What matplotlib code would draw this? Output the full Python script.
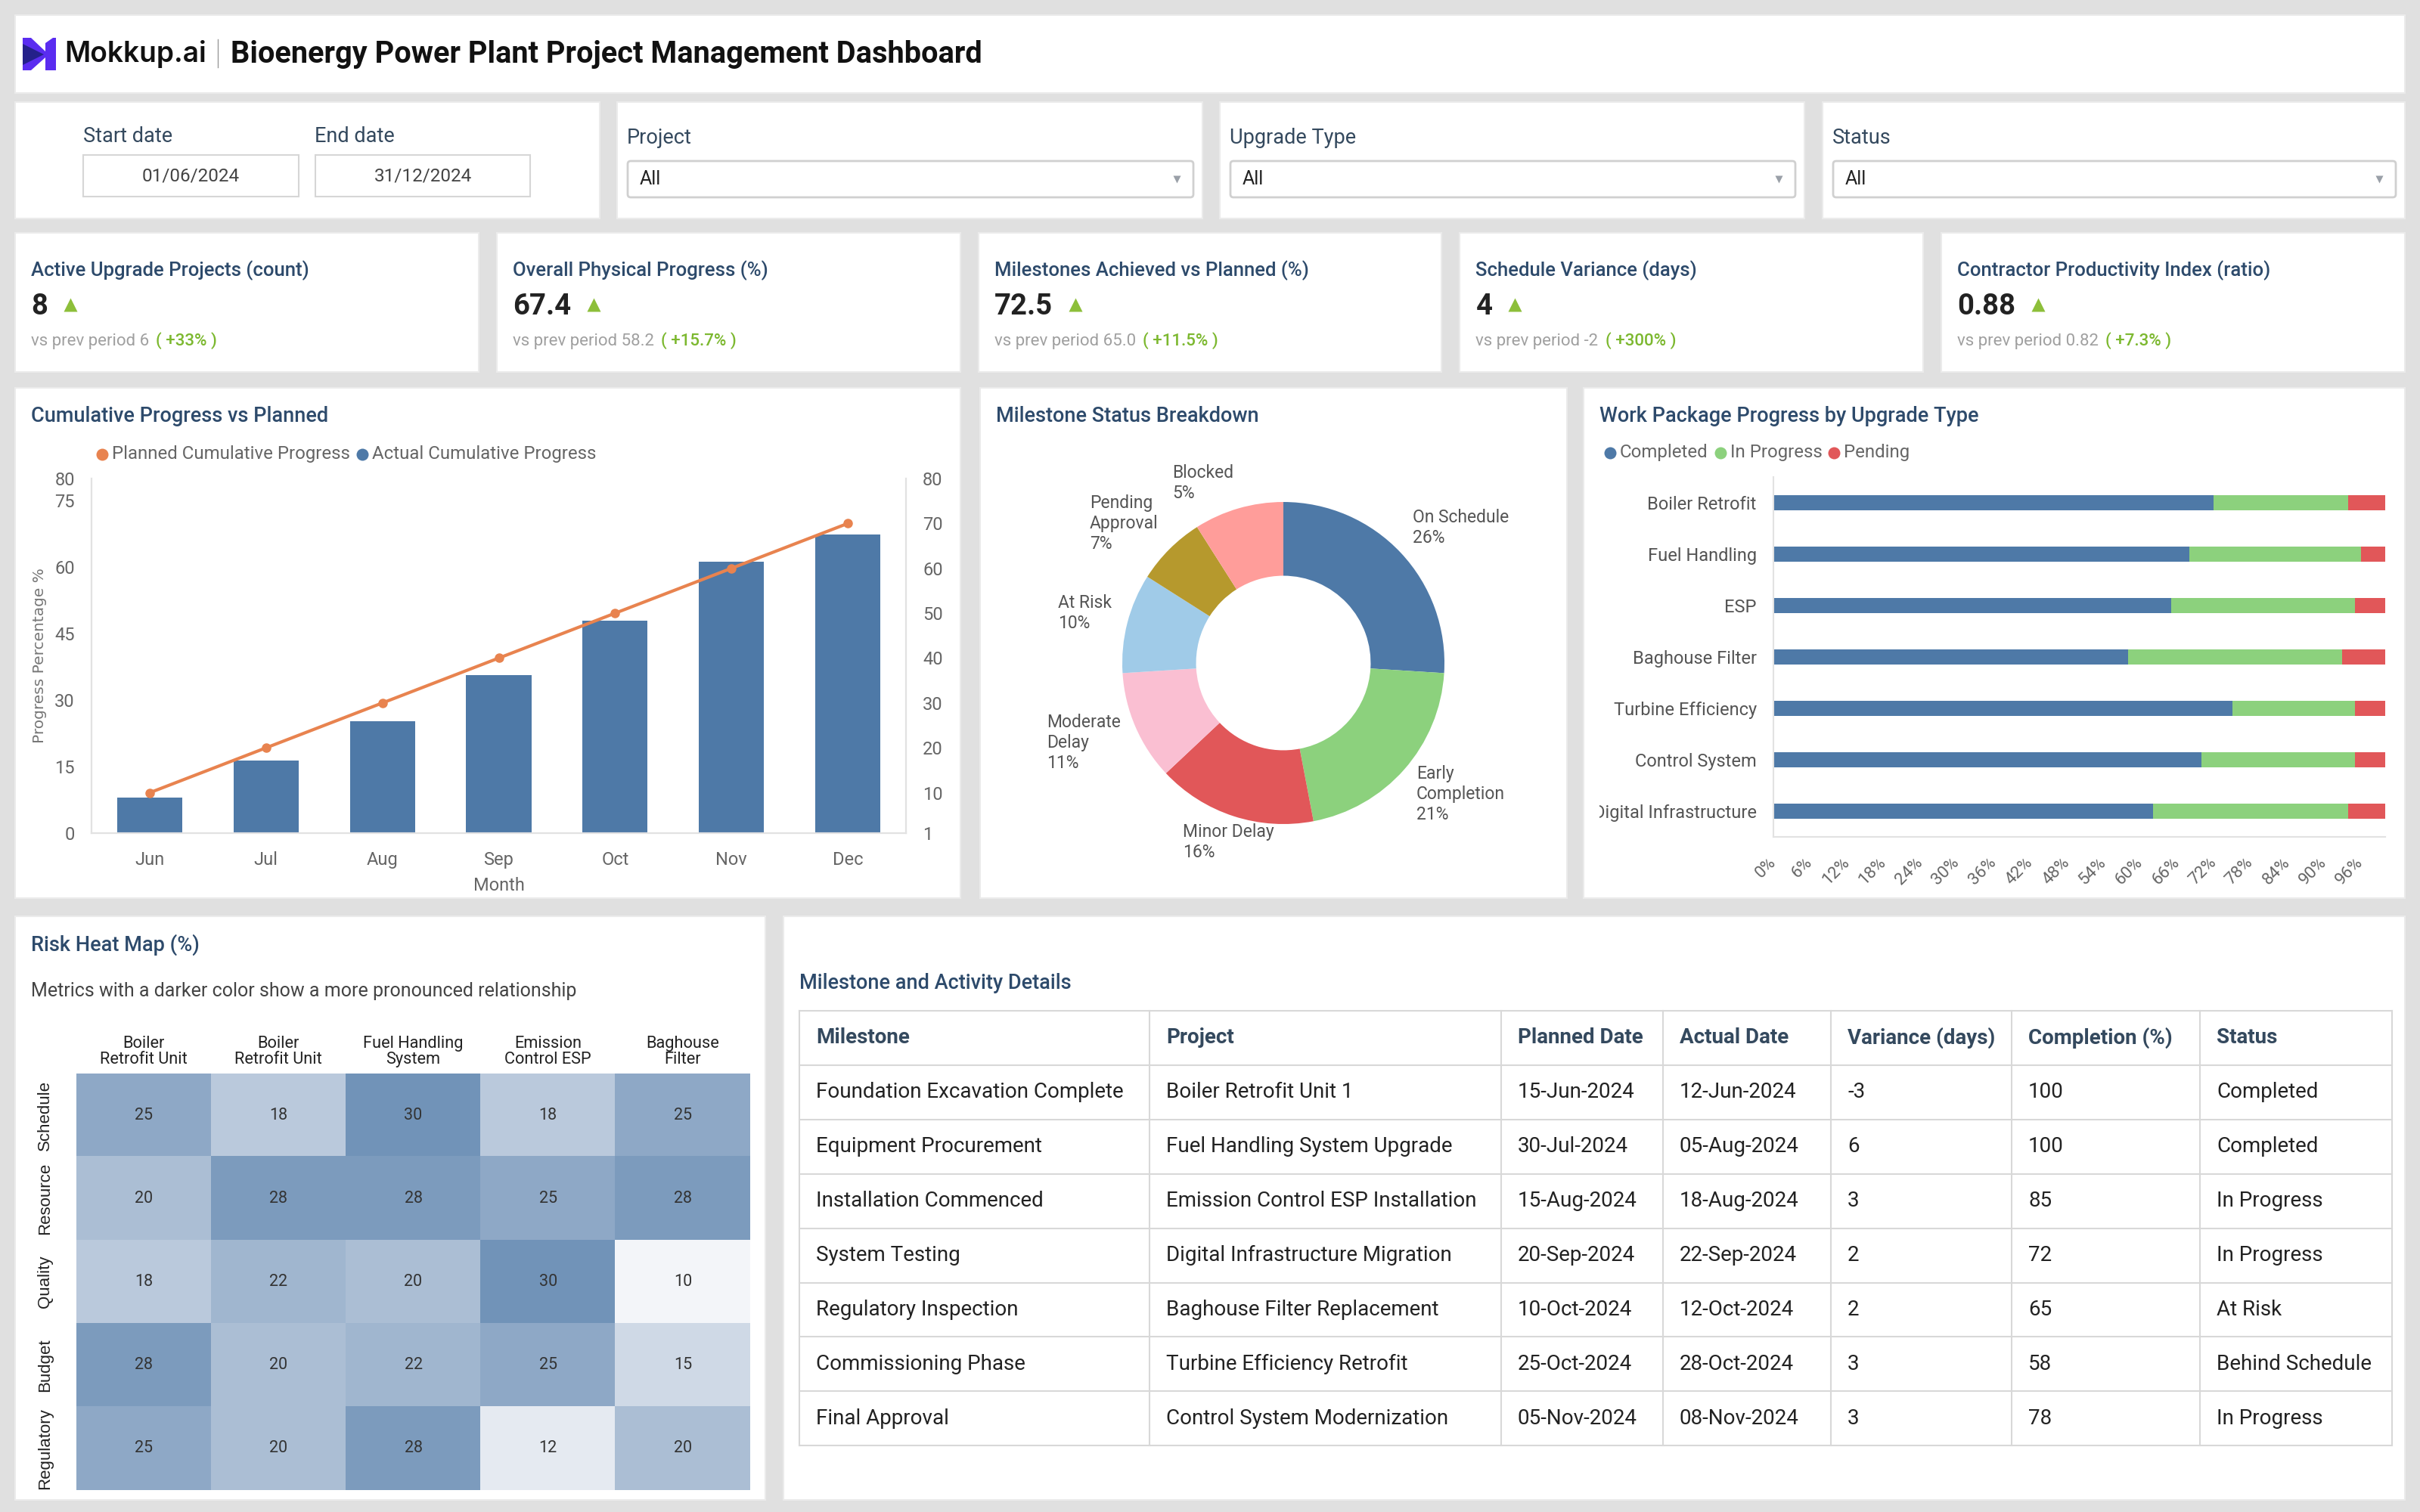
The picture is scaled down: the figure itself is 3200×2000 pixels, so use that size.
import matplotlib
matplotlib.use("Agg")
import matplotlib.pyplot as plt
import numpy as np
from matplotlib.patches import Rectangle, FancyBboxPatch, Polygon
from matplotlib.colors import LinearSegmentedColormap, Normalize
from matplotlib.transforms import Bbox, TransformedBbox

plt.rcParams["font.family"] = ["Roboto", "DejaVu Sans"]

# ---------------- data ----------------
brand = "Mokkup.ai"
dashboard_title = "Bioenergy Power Plant Project Management Dashboard"
start_date = "01/06/2024"
end_date = "31/12/2024"
filter_labels = ["Project", "Upgrade Type", "Status"]
filter_values = ["All", "All", "All"]

kpi_titles = ["Active Upgrade Projects (count)", "Overall Physical Progress (%)",
              "Milestones Achieved vs Planned (%)", "Schedule Variance (days)",
              "Contractor Productivity Index (ratio)"]
kpi_values = ["8", "67.4", "72.5", "4", "0.88"]
kpi_prev = ["6", "58.2", "65.0", "-2", "0.82"]
kpi_change = ["+33%", "+15.7%", "+11.5%", "+300%", "+7.3%"]

months = ["Jun", "Jul", "Aug", "Sep", "Oct", "Nov", "Dec"]
actual_cum = [8, 16.4, 25.2, 35.6, 48, 61.2, 67.4]
planned_cum = [10, 20, 30, 40, 50, 60, 70]
left_ticks = [0, 15, 30, 45, 60, 75, 80]
right_ticks = [1, 10, 20, 30, 40, 50, 60, 70, 80]

status_labels = ["On Schedule", "Early Completion", "Minor Delay", "Moderate Delay",
                 "At Risk", "Pending Approval", "Blocked"]
status_values = [26, 21, 16, 11, 10, 7, 9]
status_label_pct = [26, 21, 16, 11, 10, 7, 5]

upgrade_types = ["Boiler Retrofit", "Fuel Handling", "ESP", "Baghouse Filter",
                 "Turbine Efficiency", "Control System", "Digital Infrastructure"]
completed = [72, 68, 65, 58, 75, 70, 62]
in_progress = [22, 28, 30, 35, 20, 25, 32]
pending = [6, 4, 5, 7, 5, 5, 6]

risk_rows = ["Schedule", "Resource", "Quality", "Budget", "Regulatory"]
risk_cols = ["Boiler\nRetrofit Unit", "Boiler\nRetrofit Unit", "Fuel Handling\nSystem",
             "Emission\nControl ESP", "Baghouse\nFilter"]
risk_schedule = [25, 18, 30, 18, 25]
risk_resource = [20, 28, 28, 25, 28]
risk_quality = [18, 22, 20, 30, 10]
risk_budget = [28, 20, 22, 25, 15]
risk_regulatory = [25, 20, 28, 12, 20]

table_headers = ["Milestone", "Project", "Planned Date", "Actual Date",
                 "Variance (days)", "Completion (%)", "Status"]
milestones = ["Foundation Excavation Complete", "Equipment Procurement", "Installation Commenced",
              "System Testing", "Regulatory Inspection", "Commissioning Phase", "Final Approval"]
projects = ["Boiler Retrofit Unit 1", "Fuel Handling System Upgrade",
            "Emission Control ESP Installation", "Digital Infrastructure Migration",
            "Baghouse Filter Replacement", "Turbine Efficiency Retrofit",
            "Control System Modernization"]
planned_dates = ["15-Jun-2024", "30-Jul-2024", "15-Aug-2024", "20-Sep-2024",
                 "10-Oct-2024", "25-Oct-2024", "05-Nov-2024"]
actual_dates = ["12-Jun-2024", "05-Aug-2024", "18-Aug-2024", "22-Sep-2024",
                "12-Oct-2024", "28-Oct-2024", "08-Nov-2024"]
variance_days = [-3, 6, 3, 2, 2, 3, 3]
completion_pct = [100, 100, 85, 72, 65, 58, 78]
statuses = ["Completed", "Completed", "In Progress", "In Progress", "At Risk",
            "Behind Schedule", "In Progress"]

# ---------------- styling ----------------
BLUE = "#4e79a7"
GREEN = "#8cd17d"
RED = "#e15759"
ORANGE = "#e8834f"
TITLE_C = "#2d4a6b"
PIE_COLORS = ["#4e79a7", "#8cd17d", "#e15759", "#fabfd2", "#a0cbe8", "#b6992d", "#ff9d9a"]

W, H = 3200, 2000
fig = plt.figure(figsize=(W / 100, H / 100), dpi=100, facecolor="#e0e0e0")
bg = fig.add_axes([0, 0, 1, 1], zorder=-5)
bg.set_xlim(0, W)
bg.set_ylim(H, 0)
bg.axis("off")
R = fig.canvas.get_renderer()


def ax_px(x0, y0, x1, y1):
    a = fig.add_axes([x0 / W, 1 - y1 / H, (x1 - x0) / W, (y1 - y0) / H])
    a.set_facecolor("none")
    return a


def card(x0, y0, x1, y1):
    bg.add_patch(Rectangle((x0, y0), x1 - x0, y1 - y0, facecolor="white",
                           edgecolor="#ebebeb", lw=1.5))


def T(x, y, s, size=16, color="#333", weight="normal", ha="left", va="center", **kw):
    return bg.text(x, y, s, fontsize=size, color=color, fontweight=weight, ha=ha, va=va, **kw)


def right_edge(t):
    return t.get_window_extent(renderer=R).x1


def legend_row(x, y, items, size=17.3):
    for label, color in items:
        bg.plot([x + 8], [y], marker="o", ms=11.5, color=color, mec="none")
        t = T(x + 21, y, label, size, color="#666")
        x = right_edge(t) + 8


# ---------------- header ----------------
card(20, 20, 3180, 123)
bg.add_patch(Polygon([(30, 50), (41, 50), (60, 68), (60, 76), (41, 93), (30, 93)],
                     closed=True, facecolor="#5a2cf0", edgecolor="none"))
bg.add_patch(Polygon([(30, 58), (58, 72), (30, 86)], closed=True,
                     facecolor="#24208a", edgecolor="none"))
bg.add_patch(Polygon([(60, 57), (70, 50), (74, 50), (74, 93), (60, 93)], closed=True,
                     facecolor="#5a2cf0", edgecolor="none"))
T(85, 72, brand, 26.7, "#111", "semibold", family=["Inter", "DejaVu Sans"])
bg.plot([288, 288], [52, 89], color="#9a9a9a", lw=1)
T(305, 72, dashboard_title, 28.6, "#111", "bold")

# ---------------- filters ----------------
filter_cards = [(20, 135, 793, 289), (816, 135, 1590, 289), (1613, 135, 2386, 289), (2410, 135, 3180, 289)]
for c in filter_cards:
    card(*c)
T(110, 180, "Start date", 19.5, "#34495e")
T(416, 180, "End date", 19.5, "#34495e")
for (x0, x1), s in zip([(110, 395), (417, 701)], [start_date, end_date]):
    bg.add_patch(Rectangle((x0, 205), x1 - x0, 55, facecolor="white", edgecolor="#d6d6d6", lw=1.5))
    T((x0 + x1) / 2, 233, s, 17.5, "#444", ha="center")
for (x0, y0, x1, y1), lab, val in zip(filter_cards[1:], filter_labels, filter_values):
    T(x0 + 13, 183, lab, 19.5, "#34495e")
    bg.add_patch(FancyBboxPatch((x0 + 14, 213), (x1 - 12) - (x0 + 14), 48,
                                boxstyle="round,pad=0,rounding_size=4",
                                facecolor="white", edgecolor="#d0d0d0", lw=2))
    T(x0 + 30, 237, val, 18, "#222")
    bg.plot([x1 - 34], [237], marker="v", ms=7, color="#9aa0a8", mec="none")

# ---------------- KPI cards ----------------
kw_ = (3160 - 4 * 24) / 5
for i in range(5):
    cx = 20 + i * (kw_ + 24)
    card(cx, 308, cx + kw_, 492)
    T(cx + 21, 358, kpi_titles[i], 18.5, TITLE_C, "medium")
    tv = T(cx + 21, 406, kpi_values[i], 27.5, "#222", "bold")
    bg.plot([right_edge(tv) + 30], [403], marker="^", ms=12.5, color="#8dbf3a", mec="none")
    ts = T(cx + 21, 451, f"vs prev period {kpi_prev[i]}", 16, "#a0a0a0")
    T(right_edge(ts) + 9, 451, f"( {kpi_change[i]} )", 16, "#7cb82f", "medium")

# ---------------- cumulative progress ----------------
card(20, 513, 1270, 1188)
T(41, 551, "Cumulative Progress vs Planned", 19.5, TITLE_C, "medium")
legend_row(127, 601, [("Planned Cumulative Progress", ORANGE), ("Actual Cumulative Progress", BLUE)])
ax1 = ax_px(121, 633, 1198, 1102)
x = np.arange(len(months))
ax1.bar(x, actual_cum, width=0.56, color=BLUE, zorder=2)
ax1.set_xlim(-0.5, len(months) - 0.5)
ax1.set_ylim(0, 80)
ax1.set_yticks(left_ticks)
ax1.set_xticks(x)
ax1.set_xticklabels(months)
ax2 = ax1.twinx()
ax2.set_facecolor("none")
ax2.plot(x, planned_cum, color=ORANGE, lw=3, marker="o", ms=8, zorder=3)
ax2.set_ylim(1, 80)
ax2.set_yticks(right_ticks)
for a in (ax1, ax2):
    for sp in a.spines.values():
        sp.set_color("#e2e2e2")
        sp.set_linewidth(1.5)
    a.spines["top"].set_visible(False)
    a.tick_params(length=0, labelsize=17, labelcolor="#666")
ax1.tick_params(axis="y", pad=16)
ax1.tick_params(axis="x", pad=17)
ax2.tick_params(axis="y", pad=16)
T(659.5, 1171, "Month", 17, "#666", ha="center")
T(53, 867, "Progress Percentage %", 14.5, "#777", ha="center", rotation=90,
  family=["DejaVu Sans"])

# ---------------- milestone donut ----------------
card(1296, 513, 2072, 1188)
T(1317, 551, "Milestone Status Breakdown", 19.5, TITLE_C, "medium")
cxp, cyp, rad = 1697, 877, 213
dx = ax_px(cxp - 350, cyp - 350, cxp + 350, cyp + 350)
wedges, _ = dx.pie(status_values, colors=PIE_COLORS, startangle=90, counterclock=False,
                   radius=1, wedgeprops=dict(width=0.458, edgecolor="none"))
lim = 350 / rad
dx.set_xlim(-lim, lim)
dx.set_ylim(-lim, lim)
dx.set_aspect("equal")
dx.axis("off")
for w, lab, pct in zip(wedges, status_labels, status_label_pct):
    ang = np.deg2rad((w.theta1 + w.theta2) / 2)
    s = np.sin(ang)
    px, py = 1.10 * np.cos(ang), (1.25 - 0.1 * s ** 4) * s
    if py < -1.0:
        ha = "center"
    elif px > 0:
        ha = "left"
    else:
        ha = "right"
    words = lab.split(" ")
    if len(lab) > 11 and len(words) > 1:
        lab = words[0] + "\n" + " ".join(words[1:])
    dx.text(px, py, f"{lab}\n{pct}%", ha=ha, va="center", multialignment="left",
            fontsize=16.5, color="#555", linespacing=1.22)

# ---------------- work package ----------------
card(2094, 513, 3180, 1188)
T(2115, 551, "Work Package Progress by Upgrade Type", 19.5, TITLE_C, "medium")
legend_row(2121, 599, [("Completed", BLUE), ("In Progress", GREEN), ("Pending", RED)])
bx = ax_px(2345, 631, 3154, 1107)
yy = np.arange(len(upgrade_types))
comp = np.array(completed)
prog = np.array(in_progress)
pend = np.array(pending)
bx.barh(yy, comp, height=0.29, color=BLUE)
bx.barh(yy, prog, left=comp, height=0.29, color=GREEN)
bx.barh(yy, pend, left=comp + prog, height=0.29, color=RED)
bx.set_ylim(len(upgrade_types) - 0.5, -0.5)
bx.set_xlim(0, 100)
bx.set_yticks(yy)
bx.set_yticklabels(upgrade_types)
xt = np.arange(0, 97, 6)
bx.set_xticks(xt)
bx.set_xticklabels([f"{v}%" for v in xt])
for sp in ["top", "right"]:
    bx.spines[sp].set_visible(False)
for sp in ["left", "bottom"]:
    bx.spines[sp].set_color("#e2e2e2")
    bx.spines[sp].set_linewidth(1.5)
bx.tick_params(length=0, labelsize=17, labelcolor="#555")
bx.tick_params(axis="y", pad=16)
bx.tick_params(axis="x", pad=22, labelsize=16, labelcolor="#666")
for lbl in bx.get_xticklabels():
    lbl.set_rotation(45)
    lbl.set_ha("right")
    lbl.set_va("center")
    lbl.set_rotation_mode("anchor")
clipbox = TransformedBbox(Bbox.from_extents(2115 / W, 0, 1, 1), fig.transFigure)
for lbl in bx.get_yticklabels():
    lbl.set_clip_on(True)
    lbl.set_clip_box(clipbox)

# ---------------- risk heat map ----------------
card(20, 1212, 1012, 1984)
T(41, 1250, "Risk Heat Map (%)", 19.5, TITLE_C, "medium")
T(41, 1311, "Metrics with a darker color show a more pronounced relationship", 18, "#444")
risk = np.array([risk_schedule, risk_resource, risk_quality, risk_budget, risk_regulatory])
cmap = LinearSegmentedColormap.from_list("risk", ["#f3f5f9", "#acbfd5", "#7193b8"])
hx = ax_px(101, 1420, 992, 1971)
hx.imshow(risk, cmap=cmap, norm=Normalize(10, 30), aspect="auto")
for r in range(risk.shape[0]):
    for c in range(risk.shape[1]):
        hx.text(c, r, str(risk[r, c]), ha="center", va="center", fontsize=15.5, color="#333")
hx.xaxis.tick_top()
hx.set_xticks(range(len(risk_cols)))
hx.set_xticklabels(risk_cols, fontsize=15.7, color="#222", linespacing=1.0)
hx.set_yticks(range(len(risk_rows)))
hx.set_yticklabels(risk_rows, rotation=90, va="center", fontsize=16, color="#222",
                   family=["Liberation Sans", "DejaVu Sans"])
hx.tick_params(length=0)
hx.tick_params(axis="x", pad=6)
hx.tick_params(axis="y", pad=22)
for sp in hx.spines.values():
    sp.set_visible(False)

# ---------------- table ----------------
card(1036, 1212, 3180, 1984)
T(1057, 1301, "Milestone and Activity Details", 19.5, TITLE_C, "medium")
col_edges = [1057, 1520, 1985, 2199, 2421, 2660, 2909, 3163]
ty0, row_h = 1337, 71.9
columns = [milestones, projects, planned_dates, actual_dates,
           [str(v) for v in variance_days], [str(v) for v in completion_pct], statuses]
n_rows = len(milestones) + 1
for k in range(n_rows + 1):
    bg.plot([col_edges[0], col_edges[-1]], [ty0 + k * row_h] * 2, color="#d8d8d8", lw=1.5)
for xe in col_edges:
    bg.plot([xe, xe], [ty0, ty0 + n_rows * row_h], color="#d8d8d8", lw=1.5)
for j, hdr in enumerate(table_headers):
    T(col_edges[j] + 22, ty0 + row_h / 2, hdr, 20, "#34495e", "bold")
    for i, val in enumerate(columns[j]):
        T(col_edges[j] + 22, ty0 + (i + 1.5) * row_h, val, 20, "#222")

fig.savefig("out.png", dpi=100, facecolor=fig.get_facecolor())
